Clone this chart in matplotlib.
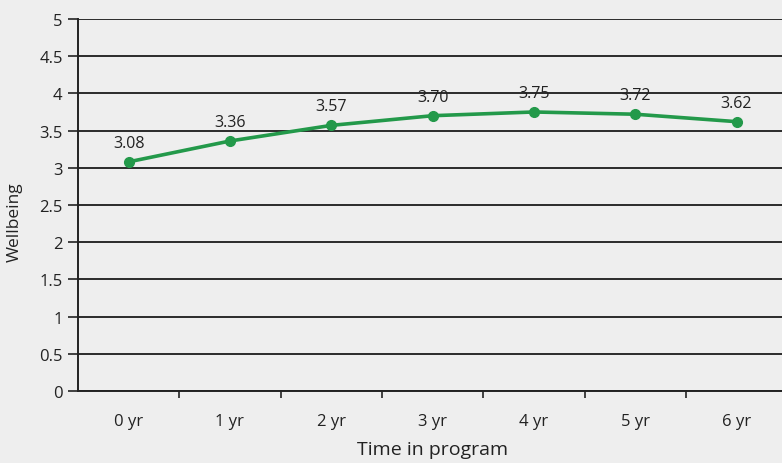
import matplotlib
matplotlib.use("Agg")
import matplotlib.pyplot as plt
import numpy as np

categories = ["0 yr", "1 yr", "2 yr", "3 yr", "4 yr", "5 yr", "6 yr"]
wellbeing = [3.08, 3.36, 3.57, 3.70, 3.75, 3.72, 3.62]
yticks = [0, 0.5, 1, 1.5, 2, 2.5, 3, 3.5, 4, 4.5, 5]
ytick_labels = ["0", "0.5", "1", "1.5", "2", "2.5", "3", "3.5", "4", "4.5", "5"]

plt.rcParams["font.family"] = ["Open Sans", "DejaVu Sans"]

bg = "#eeeeee"
ink = "#222222"
fig = plt.figure(figsize=(7.82, 4.64), dpi=100, facecolor=bg)
ax = fig.add_axes([0.0997, 0.155, 0.9069, 0.802], facecolor=bg)

x = np.arange(len(categories))
green = "#23994a"
ax.plot(x, wellbeing, color=green, lw=2.6, marker="o", ms=7, zorder=3)
for xi, v in zip(x, wellbeing):
    ax.annotate(f"{v:.2f}", (xi, v), xytext=(0, 8), textcoords="offset points",
                ha="center", va="bottom", fontsize=11.5, color=ink)

ax.set_xlim(-0.5, len(categories) - 0.5)
ax.set_ylim(0, 5)
ax.set_yticks(yticks)
ax.set_yticklabels(ytick_labels)
ax.set_xticks(x)
ax.set_xticklabels(categories)
ax.set_xticks(np.arange(0.5, len(categories) - 0.5, 1), minor=True)
ax.tick_params(axis="x", which="major", length=0, pad=16, labelsize=12, colors=ink)
ax.tick_params(axis="x", which="minor", length=5, width=1.2, color=ink)
ax.tick_params(axis="y", length=7, width=1.2, color=ink, pad=4, labelsize=12,
               labelcolor=ink)

ax.grid(axis="y", color="#2a2a2a", lw=1.4)
ax.set_axisbelow(True)
for side in ("top", "right"):
    ax.spines[side].set_visible(False)
for side in ("left", "bottom"):
    ax.spines[side].set_color(ink)
    ax.spines[side].set_linewidth(1.4)

ax.set_xlabel("Time in program", fontsize=14, color=ink, labelpad=8)
ax.set_ylabel("Wellbeing", fontsize=12.5, color=ink, labelpad=12)
ax.yaxis.label.set_y(0.457)

fig.savefig("out.png", dpi=100, facecolor=bg)
